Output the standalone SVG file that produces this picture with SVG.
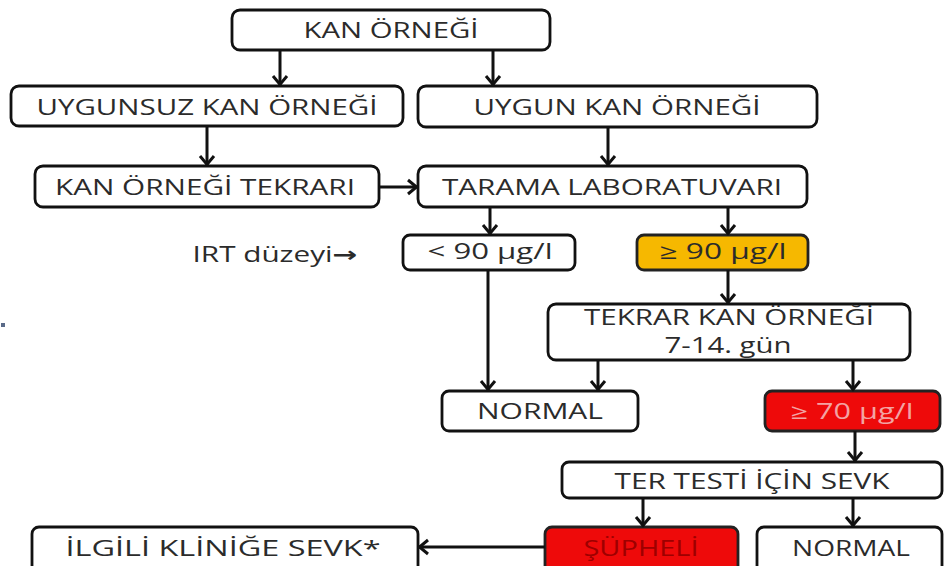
<svg xmlns="http://www.w3.org/2000/svg" width="944" height="566" viewBox="0 0 944 566">
<defs>
<marker id="ah" markerUnits="userSpaceOnUse" markerWidth="18" markerHeight="18" refX="11" refY="9" orient="auto">
<path d="M2,2 L10.5,9 L2,16" fill="none" stroke="#111" stroke-width="3" stroke-linejoin="miter"/>
</marker>
<style>
.box{fill:#fff;stroke:#111;stroke-width:2.8}
.yel{fill:#f6b800;stroke:#222;stroke-width:2.8}
.red{fill:#ee0a0a;stroke:#222;stroke-width:2.8}
.t{font-family:"Open Sans","Liberation Sans",sans-serif;font-size:21px;fill:#2b2b2b;text-anchor:middle}
.c line{stroke:#111;stroke-width:3;marker-end:url(#ah)}
</style>
</defs>
<rect width="944" height="566" fill="#fff"/>
<rect x="1" y="323" width="4" height="4" fill="#5a6a88"/>
<g id="n-kan"><rect class="box" x="232" y="10" width="318" height="40" rx="8"/><text class="t" x="391" y="38" textLength="175" lengthAdjust="spacingAndGlyphs">KAN ÖRNEĞİ</text></g>
<g id="n-uygunsuz"><rect class="box" x="11" y="86" width="392" height="40" rx="8"/><text class="t" x="207" y="115" textLength="341" lengthAdjust="spacingAndGlyphs">UYGUNSUZ KAN ÖRNEĞİ</text></g>
<g id="n-uygun"><rect class="box" x="418" y="86" width="399" height="41" rx="8"/><text class="t" x="617" y="115" textLength="287" lengthAdjust="spacingAndGlyphs">UYGUN KAN ÖRNEĞİ</text></g>
<g id="n-tekrari"><rect class="box" x="35" y="166" width="344" height="41" rx="8"/><text class="t" x="205" y="195" textLength="300" lengthAdjust="spacingAndGlyphs">KAN ÖRNEĞİ TEKRARI</text></g>
<g id="n-tarama"><rect class="box" x="418" y="166" width="389" height="41" rx="8"/><text class="t" x="612" y="195" textLength="340" lengthAdjust="spacingAndGlyphs">TARAMA LABORATUVARI</text></g>
<g id="n-irt"><text class="t" x="275" y="262" textLength="165" lengthAdjust="spacingAndGlyphs">IRT düzeyi<tspan style="font-family:'DejaVu Sans',sans-serif;font-weight:bold">→</tspan></text></g>
<g id="n-lt90"><rect class="box" x="403" y="235" width="172" height="35" rx="7"/><text class="t" x="490" y="259" textLength="125" lengthAdjust="spacingAndGlyphs">&lt; 90 µg/l</text></g>
<g id="n-ge90"><rect class="yel" x="637" y="235" width="171" height="35" rx="7"/><text class="t" x="723" y="259" textLength="127" lengthAdjust="spacingAndGlyphs">≥ 90 µg/l</text></g>
<g id="n-tekrar"><rect class="box" x="548" y="304" width="362" height="56" rx="8"/><text class="t" x="729" y="325" font-size="20" textLength="290" lengthAdjust="spacingAndGlyphs">TEKRAR KAN ÖRNEĞİ</text><text class="t" x="728" y="353" font-size="20" textLength="127" lengthAdjust="spacingAndGlyphs">7-14. gün</text></g>
<g id="n-normal1"><rect class="box" x="442" y="391" width="196" height="40" rx="7"/><text class="t" x="540" y="419" textLength="126" lengthAdjust="spacingAndGlyphs">NORMAL</text></g>
<g id="n-ge70"><rect class="red" x="765" y="391" width="175" height="40" rx="7"/><text class="t" x="852" y="419" textLength="123" lengthAdjust="spacingAndGlyphs" style="fill:#f3a3a3">≥ 70 µg/l</text></g>
<g id="n-ter"><rect class="box" x="562" y="462" width="380" height="36" rx="7"/><text class="t" x="752" y="489" textLength="275" lengthAdjust="spacingAndGlyphs">TER TESTİ İÇİN SEVK</text></g>
<g id="n-supheli"><rect class="red" x="545" y="527" width="193" height="48" rx="7"/><text class="t" x="641" y="556" textLength="115" lengthAdjust="spacingAndGlyphs" style="fill:#9e0000">ŞÜPHELİ</text></g>
<g id="n-normal2"><rect class="box" x="757" y="527" width="185" height="48" rx="7"/><text class="t" x="851" y="556" textLength="118" lengthAdjust="spacingAndGlyphs">NORMAL</text></g>
<g id="n-ilgili"><rect class="box" x="32" y="527" width="386" height="48" rx="7"/><text class="t" x="223" y="556" textLength="315" lengthAdjust="spacingAndGlyphs">İLGİLİ KLİNİĞE SEVK*</text></g>
<g id="connectors" class="c">
<line x1="280" y1="51" x2="280" y2="85"/>
<line x1="493" y1="51" x2="493" y2="85"/>
<line x1="207" y1="126" x2="207" y2="165"/>
<line x1="608" y1="127" x2="608" y2="165"/>
<line x1="379" y1="187" x2="417" y2="187"/>
<line x1="490" y1="207" x2="490" y2="234"/>
<line x1="728" y1="207" x2="728" y2="234"/>
<line x1="488" y1="270" x2="488" y2="390"/>
<line x1="728" y1="270" x2="728" y2="303"/>
<line x1="598" y1="360" x2="598" y2="390"/>
<line x1="853" y1="360" x2="853" y2="390"/>
<line x1="855" y1="431" x2="855" y2="461"/>
<line x1="643" y1="498" x2="643" y2="526"/>
<line x1="853" y1="498" x2="853" y2="526"/>
<line x1="545" y1="547" x2="419" y2="547"/>
</g>
</svg>
